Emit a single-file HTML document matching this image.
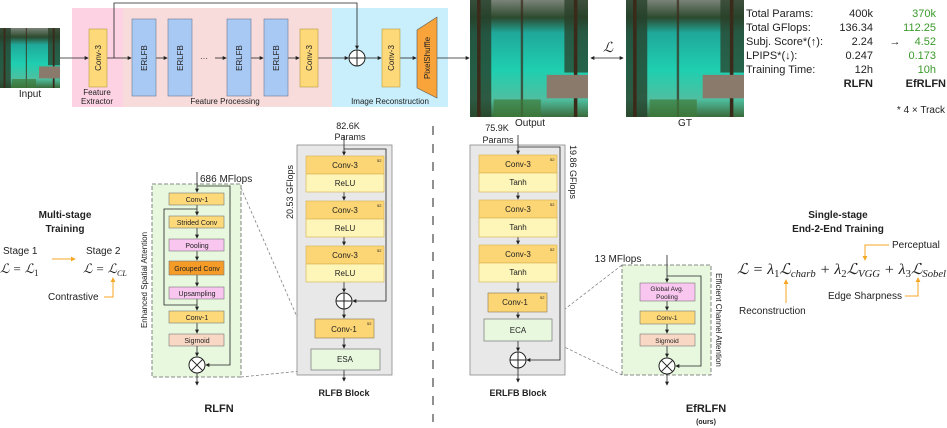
<!DOCTYPE html>
<html><head><meta charset="utf-8"><style>
html,body{margin:0;padding:0;background:#fff}
svg{display:block}
text{font-family:"Liberation Sans",sans-serif;fill:#222}
.s{font-size:8px}
.m{font-size:10px}
.b{font-weight:bold}
.it{font-family:"Liberation Serif",serif;font-style:italic}
</style></head><body>
<svg width="947" height="428" viewBox="0 0 947 428" xmlns="http://www.w3.org/2000/svg">
<defs>
<marker id="ar" viewBox="0 0 6 6" refX="5" refY="3" markerWidth="5" markerHeight="5" orient="auto"><path d="M0,0L6,3L0,6z" fill="#222"/></marker>
<marker id="ao" viewBox="0 0 6 6" refX="5" refY="3" markerWidth="5" markerHeight="5" orient="auto"><path d="M0,0L6,3L0,6z" fill="#f5a623"/></marker>
<marker id="as" viewBox="0 0 6 6" refX="1" refY="3" markerWidth="5" markerHeight="5" orient="auto"><path d="M6,0L0,3L6,6z" fill="#222"/></marker>
<linearGradient id="lake" x1="0" y1="0" x2="0" y2="1">
<stop offset="0" stop-color="#7a8478"/><stop offset="0.15" stop-color="#2d4a2e"/><stop offset="0.28" stop-color="#1fa89a"/><stop offset="0.6" stop-color="#1fcfb0"/><stop offset="0.85" stop-color="#4fbfa0"/><stop offset="1" stop-color="#3a6a3a"/></linearGradient>
<g id="img">
<rect width="100" height="100" fill="url(#lake)"/>
<rect x="0" y="0" width="18" height="100" fill="#25402a" opacity="0.8"/>
<rect x="80" y="0" width="20" height="62" fill="#2a3f28" opacity="0.75"/>
<rect x="6" y="0" width="3" height="100" fill="#3a2a1a"/>
<rect x="43" y="0" width="2" height="100" fill="#3a2a1a" opacity="0.7"/>
<rect x="88" y="0" width="3" height="100" fill="#3a2a1a"/>
<rect x="65" y="64" width="35" height="20" fill="#8a7a6c"/>
<rect x="20" y="85" width="40" height="15" fill="#3f7a3a" opacity="0.7"/>
</g>
</defs>

<use href="#img" transform="translate(0,28) scale(0.6)"/>
<text x="30" y="97" class="m" text-anchor="middle">Input</text>
<rect x="72" y="8" width="51" height="99" fill="#fdd3e3"/>
<rect x="123" y="8" width="209" height="99" fill="#f8dcdc"/>
<rect x="332" y="8" width="116" height="99" fill="#c9effc"/>
<text x="97" y="95" class="s" text-anchor="middle">Feature</text>
<text x="97" y="104" class="s" text-anchor="middle">Extractor</text>
<text x="225" y="104" class="s" text-anchor="middle">Feature Processing</text>
<text x="390" y="104" class="s" text-anchor="middle">Image Reconstruction</text>
<g stroke="#222" stroke-width="0.8" fill="none">
<line x1="60" y1="58" x2="88" y2="58" marker-end="url(#ar)"/>
<line x1="107" y1="58" x2="131" y2="58" marker-end="url(#ar)"/>
<line x1="156" y1="58" x2="167" y2="58" marker-end="url(#ar)"/>
<line x1="215" y1="58" x2="226" y2="58" marker-end="url(#ar)"/>
<line x1="251" y1="58" x2="263" y2="58" marker-end="url(#ar)"/>
<line x1="288" y1="58" x2="299" y2="58" marker-end="url(#ar)"/>
<line x1="318" y1="58" x2="348" y2="58" marker-end="url(#ar)"/>
<polyline points="114,58 114,3 357,3 357,49" marker-end="url(#ar)"/>
<line x1="365" y1="58" x2="381" y2="58" marker-end="url(#ar)"/>
<line x1="400" y1="58" x2="416" y2="58" marker-end="url(#ar)"/>
<line x1="437" y1="58" x2="469" y2="58" marker-end="url(#ar)"/>
<line x1="591" y1="58" x2="623" y2="58" marker-start="url(#as)" marker-end="url(#ar)"/>
</g>
<text x="204" y="61" class="s" text-anchor="middle">···</text>
<rect x="89" y="29" width="18" height="58" fill="#fdd97a" stroke="#b89a40" stroke-width="0.6"/>
<text transform="translate(101,58) rotate(-90)" class="s" text-anchor="middle">Conv-3</text>
<g fill="#a9c9f5" stroke="#6a7a90" stroke-width="0.6">
<rect x="132" y="19" width="24" height="77"/><rect x="168" y="19" width="24" height="77"/>
<rect x="227" y="19" width="24" height="77"/><rect x="264" y="19" width="24" height="77"/></g>
<g class="s" text-anchor="middle">
<text transform="translate(147,58) rotate(-90)">ERLFB</text><text transform="translate(183,58) rotate(-90)">ERLFB</text>
<text transform="translate(242,58) rotate(-90)">ERLFB</text><text transform="translate(279,58) rotate(-90)">ERLFB</text></g>
<rect x="300" y="29" width="18" height="58" fill="#fdd97a" stroke="#b89a40" stroke-width="0.6"/>
<text transform="translate(312,58) rotate(-90)" class="s" text-anchor="middle">Conv-3</text>
<circle cx="357" cy="58" r="8" fill="#fff" stroke="#222" stroke-width="1"/>
<path d="M349,58H365M357,50V66" stroke="#222" stroke-width="1"/>
<rect x="382" y="29" width="18" height="58" fill="#fdd97a" stroke="#b89a40" stroke-width="0.6"/>
<text transform="translate(394,58) rotate(-90)" class="s" text-anchor="middle">Conv-3</text>
<polygon points="417,30 437,17 437,98 417,88" fill="#f9a43a" stroke="#555" stroke-width="0.6"/>
<text transform="translate(430,58) rotate(-90)" class="s" text-anchor="middle">PixelShuffle</text>

<use href="#img" transform="translate(470,0) scale(1.18,1.17)"/>
<use href="#img" transform="translate(626,0) scale(1.18,1.17)"/>
<text x="530" y="126" class="m" text-anchor="middle">Output</text>
<text x="685" y="126" class="m" text-anchor="middle">GT</text>
<text x="608" y="52" class="it" font-size="14" text-anchor="middle">ℒ</text>

<g font-size="11">
<text x="746" y="17">Total Params:</text><text x="873" y="17" text-anchor="end">400k</text><text x="936" y="17" text-anchor="end" style="fill:#3a9a2a">370k</text>
<text x="746" y="31">Total GFlops:</text><text x="873" y="31" text-anchor="end">136.34</text><text x="936" y="31" text-anchor="end" style="fill:#3a9a2a">112.25</text>
<text x="746" y="45">Subj. Score*(↑):</text><text x="873" y="45" text-anchor="end">2.24</text><text x="895" y="45" text-anchor="middle">→</text><text x="936" y="45" text-anchor="end" style="fill:#3a9a2a">4.52</text>
<text x="746" y="59">LPIPS*(↓):</text><text x="873" y="59" text-anchor="end">0.247</text><text x="936" y="59" text-anchor="end" style="fill:#3a9a2a">0.173</text>
<text x="746" y="73">Training Time:</text><text x="873" y="73" text-anchor="end">12h</text><text x="936" y="73" text-anchor="end" style="fill:#3a9a2a">10h</text>
<text x="873" y="87" text-anchor="end" class="b">RLFN</text><text x="946" y="87" text-anchor="end" class="b">EfRLFN</text>
<text x="945" y="113" text-anchor="end" font-size="10">* 4 × Track</text>
</g>

<line x1="433" y1="126" x2="433" y2="422" stroke="#222" stroke-width="1" stroke-dasharray="9,9"/>

<text x="65" y="218" class="m b" text-anchor="middle">Multi-stage</text>
<text x="65" y="232" class="m b" text-anchor="middle">Training</text>
<text x="3" y="254" class="m">Stage 1</text>
<text x="86" y="254" class="m">Stage 2</text>
<text x="0" y="273" class="it" font-size="13">ℒ = ℒ<tspan font-size="9" dy="3" font-style="normal">1</tspan></text>
<text x="83" y="273" class="it" font-size="13">ℒ = ℒ<tspan font-size="8" dy="3">CL</tspan></text>
<line x1="52" y1="259" x2="75" y2="259" stroke="#f5a623" stroke-width="1" marker-end="url(#ao)"/>
<text x="48" y="300" class="m">Contrastive</text>
<polyline points="104,297 113,297 113,278" fill="none" stroke="#f5a623" stroke-width="1" marker-end="url(#ao)"/>

<rect x="152" y="184" width="89" height="193" fill="#e8f8df" stroke="#666" stroke-width="0.8" stroke-dasharray="4,2"/>
<text transform="translate(147,280) rotate(-90)" class="s" text-anchor="middle">Enhanced Spatial Attention</text>
<text x="200" y="182" class="m">686 MFlops</text>
<g stroke="#222" stroke-width="0.8" fill="none">
<line x1="197" y1="172" x2="197" y2="192" marker-end="url(#ar)"/>
<polyline points="197,186 230,186 230,365 206,365" marker-end="url(#ar)"/>
<line x1="197" y1="205" x2="197" y2="215" marker-end="url(#ar)"/>
<polyline points="197,209 164,209 164,305 197,305"/>
<line x1="197" y1="228" x2="197" y2="238" marker-end="url(#ar)"/>
<line x1="197" y1="251" x2="197" y2="260" marker-end="url(#ar)"/>
<line x1="197" y1="275" x2="197" y2="286" marker-end="url(#ar)"/>
<line x1="197" y1="299" x2="197" y2="310" marker-end="url(#ar)"/>
<line x1="197" y1="323" x2="197" y2="333" marker-end="url(#ar)"/>
<line x1="197" y1="346" x2="197" y2="356" marker-end="url(#ar)"/>
<line x1="197" y1="373" x2="197" y2="385" marker-end="url(#ar)"/>
</g>
<g stroke="#777" stroke-width="0.6">
<rect x="169" y="193" width="55" height="12" fill="#fdd97a"/>
<rect x="169" y="216" width="55" height="12" fill="#fdd97a"/>
<rect x="169" y="239" width="55" height="12" fill="#f9c6f0"/>
<rect x="169" y="261" width="55" height="14" fill="#f59c28"/>
<rect x="169" y="287" width="55" height="12" fill="#f9c6f0"/>
<rect x="169" y="311" width="55" height="12" fill="#fdd97a"/>
<rect x="169" y="334" width="55" height="12" fill="#f8d8c4"/>
</g>
<g font-size="7" text-anchor="middle">
<text x="197" y="202">Conv-1</text><text x="197" y="225">Strided Conv</text><text x="197" y="248">Pooling</text>
<text x="197" y="271">Grouped Conv</text><text x="197" y="296">Upsampling</text><text x="197" y="320">Conv-1</text><text x="197" y="343">Sigmoid</text></g>
<circle cx="197" cy="365" r="8" fill="#fff" stroke="#222"/>
<path d="M191.3,359.3L202.7,370.7M202.7,359.3L191.3,370.7" stroke="#222"/>
<text x="219" y="412" font-size="11" class="b" text-anchor="middle">RLFN</text>

<g stroke="#777" stroke-width="0.7" stroke-dasharray="3,2">
<line x1="241" y1="188" x2="311" y2="349"/><line x1="241" y1="377" x2="311" y2="370"/>
<line x1="552" y1="319" x2="622" y2="265"/><line x1="552" y1="341" x2="622" y2="375"/>
</g>

<rect x="297" y="145" width="95" height="230" fill="#e8e8e8" stroke="#888" stroke-width="0.8"/>
<text x="348" y="129" font-size="9" text-anchor="middle">82.6K</text>
<text x="350" y="140" font-size="9" text-anchor="middle">Params</text>
<text transform="translate(293,192) rotate(-90)" font-size="9" text-anchor="middle">20.53 GFlops</text>
<g stroke="#222" stroke-width="0.8" fill="none">
<line x1="344" y1="135" x2="344" y2="155" marker-end="url(#ar)"/>
<polyline points="344,149 386,149 386,301 353,301" marker-end="url(#ar)"/>
<line x1="344" y1="192" x2="344" y2="200" marker-end="url(#ar)"/>
<line x1="344" y1="237" x2="344" y2="245" marker-end="url(#ar)"/>
<line x1="344" y1="282" x2="344" y2="292" marker-end="url(#ar)"/>
<line x1="344" y1="309" x2="344" y2="318" marker-end="url(#ar)"/>
<line x1="344" y1="338" x2="344" y2="348" marker-end="url(#ar)"/>
<line x1="344" y1="370" x2="344" y2="381" marker-end="url(#ar)"/>
</g>
<g stroke="#d8b050" stroke-width="0.6">
<rect x="306" y="156" width="78" height="18" fill="#fcd574"/><rect x="306" y="174" width="78" height="18" fill="#fdf6b8"/>
<rect x="306" y="201" width="78" height="18" fill="#fcd574"/><rect x="306" y="219" width="78" height="18" fill="#fdf6b8"/>
<rect x="306" y="246" width="78" height="18" fill="#fcd574"/><rect x="306" y="264" width="78" height="18" fill="#fdf6b8"/>
<rect x="315" y="319" width="59" height="19" fill="#fcd574" stroke="#8a7a50"/>
</g>
<rect x="311" y="349" width="69" height="21" fill="#e8f8df" stroke="#777" stroke-width="0.7"/>
<g font-size="8" text-anchor="middle">
<text x="345" y="168">Conv-3</text><text x="345" y="186">ReLU</text>
<text x="345" y="213">Conv-3</text><text x="345" y="231">ReLU</text>
<text x="345" y="258">Conv-3</text><text x="345" y="276">ReLU</text>
<text x="344" y="332">Conv-1</text><text x="345" y="362">ESA</text></g>
<g font-size="4"><text x="377" y="162">52</text><text x="377" y="207">52</text><text x="377" y="252">52</text><text x="367" y="325">52</text></g>
<circle cx="344" cy="301" r="8" fill="#fff" stroke="#222"/>
<path d="M336,301H352M344,293V309" stroke="#222"/>
<text x="344" y="396" font-size="9" class="b" text-anchor="middle">RLFB Block</text>

<rect x="470" y="145" width="95" height="230" fill="#e8e8e8" stroke="#888" stroke-width="0.8"/>
<text x="497" y="131" font-size="9" text-anchor="middle">75.9K</text>
<text x="498" y="143" font-size="9" text-anchor="middle">Params</text>
<text transform="translate(570,172) rotate(90)" font-size="9" text-anchor="middle">19.86 GFlops</text>
<g stroke="#222" stroke-width="0.8" fill="none">
<line x1="518" y1="135" x2="518" y2="154" marker-end="url(#ar)"/>
<polyline points="518,147 560,147 560,360 527,360" marker-end="url(#ar)"/>
<line x1="518" y1="192" x2="518" y2="199" marker-end="url(#ar)"/>
<line x1="518" y1="237" x2="518" y2="244" marker-end="url(#ar)"/>
<line x1="518" y1="282" x2="518" y2="292" marker-end="url(#ar)"/>
<line x1="518" y1="312" x2="518" y2="318" marker-end="url(#ar)"/>
<line x1="518" y1="341" x2="518" y2="351" marker-end="url(#ar)"/>
<line x1="518" y1="368" x2="518" y2="382" marker-end="url(#ar)"/>
</g>
<g stroke="#d8b050" stroke-width="0.6">
<rect x="479" y="155" width="78" height="18" fill="#fcd574"/><rect x="479" y="173" width="78" height="19" fill="#fdf6b8"/>
<rect x="479" y="200" width="78" height="18" fill="#fcd574"/><rect x="479" y="218" width="78" height="19" fill="#fdf6b8"/>
<rect x="479" y="245" width="78" height="18" fill="#fcd574"/><rect x="479" y="263" width="78" height="19" fill="#fdf6b8"/>
<rect x="488" y="293" width="59" height="19" fill="#fcd574" stroke="#8a7a50"/>
</g>
<rect x="484" y="319" width="68" height="22" fill="#e8f8df" stroke="#777" stroke-width="0.7"/>
<g font-size="8" text-anchor="middle">
<text x="518" y="167">Conv-3</text><text x="518" y="185">Tanh</text>
<text x="518" y="212">Conv-3</text><text x="518" y="230">Tanh</text>
<text x="518" y="257">Conv-3</text><text x="518" y="275">Tanh</text>
<text x="515" y="305">Conv-1</text><text x="518" y="333">ECA</text></g>
<g font-size="4"><text x="550" y="161">52</text><text x="550" y="206">52</text><text x="550" y="251">52</text><text x="540" y="299">52</text></g>
<circle cx="518" cy="360" r="8" fill="#fff" stroke="#222"/>
<path d="M510,360H526M518,352V368" stroke="#222"/>
<text x="518" y="396" font-size="9" class="b" text-anchor="middle">ERLFB Block</text>

<rect x="622" y="265" width="89" height="110" fill="#e8f8df" stroke="#666" stroke-width="0.8" stroke-dasharray="4,2"/>
<text x="618" y="262" class="m" text-anchor="middle">13 MFlops</text>
<text transform="translate(716,320) rotate(90)" class="s" text-anchor="middle">Efficient Channel Attention</text>
<g stroke="#222" stroke-width="0.8" fill="none">
<line x1="667" y1="255" x2="667" y2="282" marker-end="url(#ar)"/>
<polyline points="667,276 701,276 701,366 676,366" marker-end="url(#ar)"/>
<line x1="667" y1="301" x2="667" y2="310" marker-end="url(#ar)"/>
<line x1="667" y1="324" x2="667" y2="333" marker-end="url(#ar)"/>
<line x1="667" y1="346" x2="667" y2="357" marker-end="url(#ar)"/>
<line x1="667" y1="374" x2="667" y2="385" marker-end="url(#ar)"/>
</g>
<g stroke="#777" stroke-width="0.6">
<rect x="640" y="283" width="55" height="18" fill="#f9c6f0"/>
<rect x="640" y="311" width="55" height="13" fill="#fdd97a"/>
<rect x="640" y="334" width="55" height="12" fill="#f8d8c4"/></g>
<g font-size="6.5" text-anchor="middle">
<text x="667" y="291">Global Avg.</text><text x="667" y="299">Pooling</text>
<text x="667" y="320">Conv-1</text><text x="667" y="343">Sigmoid</text></g>
<circle cx="667" cy="366" r="8" fill="#fff" stroke="#222"/>
<path d="M661.3,360.3L672.7,371.7M672.7,360.3L661.3,371.7" stroke="#222"/>
<text x="706" y="412" font-size="11" class="b" text-anchor="middle">EfRLFN</text>
<text x="706" y="424" font-size="7" class="b" text-anchor="middle">(ours)</text>

<text x="838" y="218" class="m b" text-anchor="middle">Single-stage</text>
<text x="838" y="232" class="m b" text-anchor="middle">End-2-End Training</text>
<text x="892" y="248" class="m">Perceptual</text>
<text x="828" y="299" class="m">Edge Sharpness</text>
<text x="739" y="314" class="m">Reconstruction</text>
<g stroke="#f5a623" stroke-width="1" fill="none">
<polyline points="889,245 865,245 865,260" marker-end="url(#ao)"/>
<polyline points="905,296 918,296 918,278" marker-end="url(#ao)"/>
<line x1="786" y1="303" x2="786" y2="280" marker-end="url(#ao)"/>
</g>
<text x="737" y="274" class="it" font-size="15" textLength="209" lengthAdjust="spacingAndGlyphs">ℒ = λ<tspan font-size="10" dy="3" font-style="normal">1</tspan><tspan dy="-3">ℒ</tspan><tspan font-size="10" dy="3">charb</tspan><tspan dy="-3"> + λ</tspan><tspan font-size="10" dy="3" font-style="normal">2</tspan><tspan dy="-3">ℒ</tspan><tspan font-size="10" dy="3">VGG</tspan><tspan dy="-3"> + λ</tspan><tspan font-size="10" dy="3" font-style="normal">3</tspan><tspan dy="-3">ℒ</tspan><tspan font-size="10" dy="3">Sobel</tspan></text>
</svg>
</body></html>
